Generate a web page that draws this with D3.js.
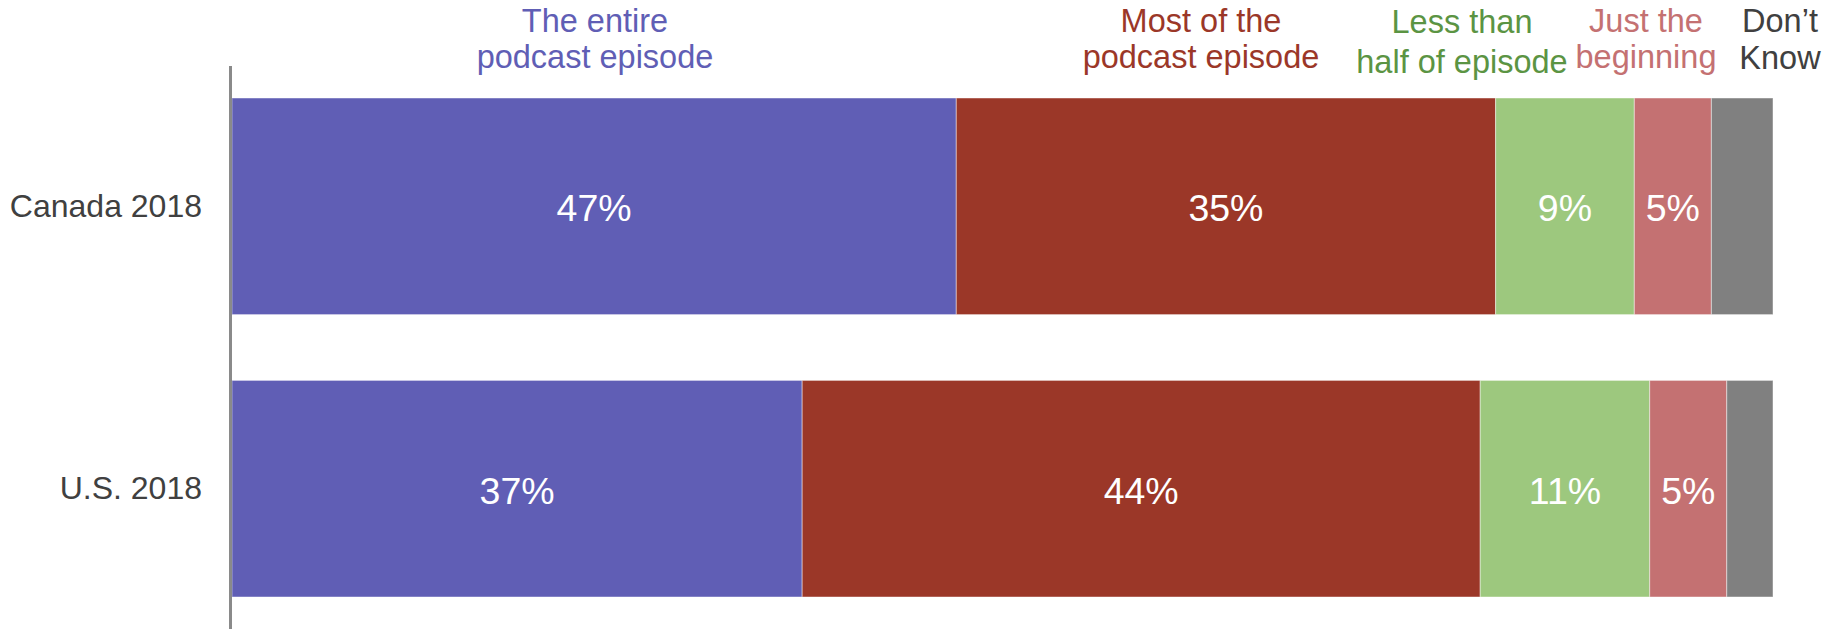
<!DOCTYPE html>
<html>
<head>
<meta charset="utf-8">
<script src="https://cdn.jsdelivr.net/npm/d3@7/dist/d3.min.js"></script>
<style>
  html, body { margin: 0; padding: 0; background: #ffffff; }
  svg { display: block; font-family: "Liberation Sans", Arial, Helvetica, sans-serif; }
</style>
</head>
<body>
<svg id="chart" width="1835" height="629"></svg>
<script>
// ---- data ----
const rows = ["Canada 2018", "U.S. 2018"];
const seriesNames = ["The entire podcast episode", "Most of the podcast episode", "Less than half of episode", "Just the beginning", "Don\u2019t Know"];
const headerLines = [
  ["The entire", "podcast episode"],
  ["Most of the", "podcast episode"],
  ["Less than", "half of episode"],
  ["Just the", "beginning"],
  ["Don\u2019t", "Know"]
];
const entire    = [47, 37];
const most      = [35, 44];
const lessHalf  = [9, 11];
const beginning = [5, 5];
const dontKnow  = [4, 3];
const showLabel = [true, true, true, true, false];

// ---- styles / layout ----
const fillColors = ["#605EB5", "#9B3728", "#9DC87E", "#C47172", "#808080"];
const textColors = ["#605EB5", "#9B3728", "#5B9443", "#C47172", "#404040"];
const headerX = [595, 1201, 1462, 1646, 1780];
const headerBase1 = [32, 32, 33, 32, 32];
const headerBase2 = [67, 67, 72, 67, 68];

const values = [entire, most, lessHalf, beginning, dontKnow];
const svg = d3.select("#chart");

const x = d3.scaleLinear().domain([0, 100]).range([232, 1773]);
const y = d3.scaleBand().domain(rows).range([98, 597]).paddingInner(0.233).paddingOuter(0);

// stacked data
const table = rows.map((r, i) => {
  const o = { row: r };
  seriesNames.forEach((s, k) => { o[s] = values[k][i]; });
  return o;
});
const stack = d3.stack().keys(seriesNames)(table);

const g = svg.append("g");
stack.forEach((layer, k) => {
  const lg = g.append("g");
  lg.selectAll("rect").data(layer).join("rect")
    .attr("x", d => x(d[0]))
    .attr("y", d => y(d.data.row))
    .attr("width", d => x(d[1]) - x(d[0]))
    .attr("height", y.bandwidth())
    .attr("fill", fillColors[k])
    .attr("stroke", "rgba(255,255,255,0.45)")
    .attr("stroke-width", 1);
  if (showLabel[k]) {
    lg.selectAll("text").data(layer).join("text")
      .attr("x", d => (x(d[0]) + x(d[1])) / 2)
      .attr("y", d => y(d.data.row) + y.bandwidth() / 2 + 2)
      .attr("dy", "0.35em")
      .attr("text-anchor", "middle")
      .attr("fill", "#ffffff")
      .attr("font-size", 37.5)
      .text(d => (d[1] - d[0]) + "%");
  }
});

// axis line
svg.append("line")
  .attr("x1", 230.5).attr("x2", 230.5)
  .attr("y1", 66).attr("y2", 629)
  .attr("stroke", "#8a8a8a").attr("stroke-width", 3);

// category axis labels
const yAxis = d3.axisLeft(y).tickSize(0).tickPadding(29);
const ag = svg.append("g").attr("transform", "translate(231,0)").call(yAxis);
ag.select(".domain").remove();
ag.selectAll("text")
  .attr("font-size", 32)
  .attr("font-family", "'Liberation Sans', Arial, sans-serif")
  .attr("fill", "#404040")
  .attr("dy", "0.32em");

// headers
headerLines.forEach((lines, k) => {
  const t = svg.append("text")
    .attr("text-anchor", "middle")
    .attr("font-size", 32.5)
    .attr("fill", textColors[k]);
  t.append("tspan").attr("x", headerX[k]).attr("y", headerBase1[k]).text(lines[0]);
  t.append("tspan").attr("x", headerX[k]).attr("y", headerBase2[k] + 1).text(lines[1]);
});
</script>
</body>
</html>
